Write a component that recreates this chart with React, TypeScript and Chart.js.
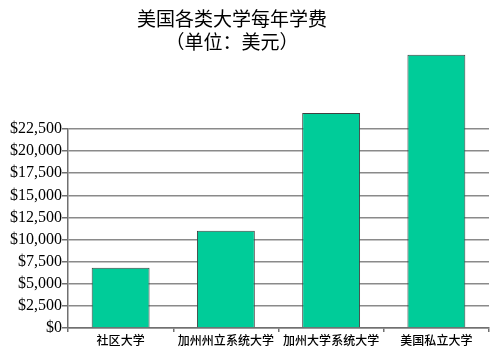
import React, { useEffect, useRef } from "react";
import { Chart, registerables } from "chart.js";

Chart.register(...registerables);

const titleLines = ["美国各类大学每年学费", "（单位：美元）"];
const categories = ["社区大学", "加州州立系统大学", "加州大学系统大学", "美国私立大学"];
const tuition = [6800, 11000, 24300, 30900];
const yMin = 0;
const yMax = 22500;
const yStep = 2500;

export default function App() {
  const ref = useRef<HTMLCanvasElement>(null);
  useEffect(() => {
    document.body.style.margin = "0";
    const chart = new Chart(ref.current!, {
      type: "bar",
      data: {
        labels: categories,
        datasets: [
          {
            data: tuition,
            backgroundColor: "#00CC99",
            borderColor: "#404040",
            borderWidth: 1,
            categoryPercentage: 1,
            barPercentage: 0.55,
            clip: false as any,
          },
        ],
      },
      options: {
        animation: false,
        responsive: false,
        devicePixelRatio: 1,
        layout: { padding: { top: 129, right: 11, left: 0, bottom: 0 } },
        plugins: { legend: { display: false }, title: { display: false }, tooltip: { enabled: false } },
        scales: {
          x: {
            offset: true,
            grid: {
              offset: true,
              drawOnChartArea: true,
              color: (ctx: any) => (ctx.index === categories.length ? "#8a8a8a" : "rgba(0,0,0,0)"),
              tickColor: "#707070",
              tickLength: 4,
              lineWidth: 1.5,
            },
            border: { display: true, color: "#707070", width: 1.5 },
            ticks: {
              color: "#000",
              font: { family: "'Noto Sans CJK SC'", size: 12, weight: "500" as any },
              padding: 1,
              maxRotation: 0,
              autoSkip: false,
            },
            afterFit: (s: any) => {
              s.height = 353 - 328;
            },
          },
          y: {
            min: yMin,
            max: yMax,
            grid: { color: "#8a8a8a", lineWidth: 1.5, tickLength: 6, tickColor: "#707070" },
            border: { display: true, color: "#707070", width: 1.5 },
            ticks: {
              stepSize: yStep,
              autoSkip: false,
              color: "#000",
              padding: 0,
              font: { family: "'Liberation Serif'", size: 16 },
              callback: (v: any) => "$" + Number(v).toLocaleString("en-US"),
            },
            afterFit: (s: any) => {
              s.width = 68;
            },
          },
        },
      },
    });
    return () => chart.destroy();
  }, []);
  return (
    <div style={{ position: "relative", width: 500, height: 353, background: "#fff" }}>
      <canvas ref={ref} width={500} height={353} style={{ position: "absolute", left: 0, top: 0 }} />
      <div
        style={{
          position: "absolute",
          left: 132,
          width: 200,
          top: 6,
          textAlign: "center",
          fontFamily: "'Noto Sans CJK SC'",
          fontSize: 19,
          lineHeight: "23px",
          color: "#000",
        }}
      >
        <div>{titleLines[0]}</div>
        <div>{titleLines[1]}</div>
      </div>
    </div>
  );
}
